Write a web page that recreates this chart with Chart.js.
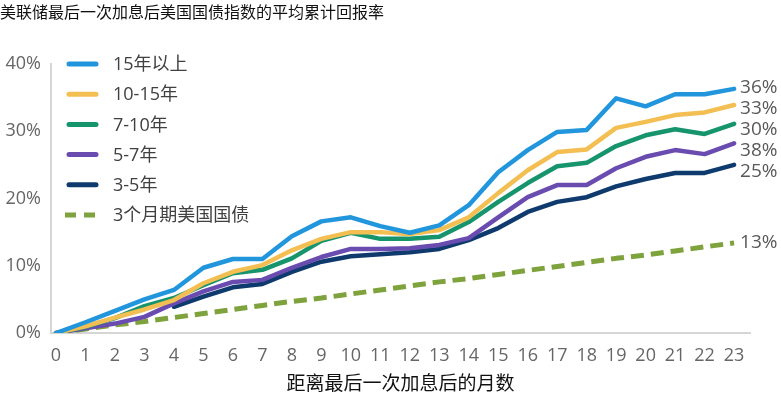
<!DOCTYPE html>
<html>
<head>
<meta charset="utf-8">
<script src="https://cdn.jsdelivr.net/npm/chart.js@4/dist/chart.umd.min.js"></script>
<style>
  html, body { margin: 0; padding: 0; background: #fff; }
  #wrap { width: 781px; height: 394px; position: relative; }
</style>
</head>
<body>
<div id="wrap"><canvas id="c" width="781" height="394"></canvas></div>
<script>
const chartTitle = '美联储最后一次加息后美国国债指数的平均累计回报率';
const xTitle = '距离最后一次加息后的月数';
const months = [0,1,2,3,4,5,6,7,8,9,10,11,12,13,14,15,16,17,18,19,20,21,22,23];
const yTicks = [0,10,20,30,40];

const seriesNames = ['15年以上','10-15年','7-10年','5-7年','3-5年','3个月期美国国债'];
const s15plus = [0,1.6,3.3,5.0,6.4,9.7,11.0,11.0,14.4,16.6,17.2,15.9,14.9,16.0,19.0,23.9,27.2,29.9,30.2,34.9,33.7,35.5,35.5,36.3];
const s10to15 = [0,1.0,2.3,3.5,4.9,7.4,9.1,10.1,12.3,14.0,15.0,15.0,14.7,15.3,17.2,20.8,24.2,26.9,27.3,30.5,31.4,32.4,32.8,33.9];
const s7to10  = [0,0.9,2.2,4.0,5.2,7.1,8.9,9.4,11.1,13.7,14.9,14.0,14.0,14.3,16.5,19.5,22.3,24.8,25.3,27.8,29.4,30.3,29.6,31.1];
const s5to7   = [0,0.7,1.4,2.4,4.4,6.2,7.6,7.9,9.7,11.3,12.5,12.5,12.6,13.1,14.1,17.2,20.2,22.0,22.0,24.5,26.2,27.2,26.6,28.2];
const s3to5   = [null,null,null,null,3.9,5.4,6.8,7.3,9.1,10.6,11.4,11.7,12.0,12.5,13.8,15.6,18.0,19.5,20.2,21.8,22.9,23.8,23.8,25.0];
const sBill3m = [0,0.6,1.2,1.7,2.3,2.9,3.5,4.1,4.7,5.2,5.8,6.4,7.0,7.6,8.1,8.7,9.3,9.9,10.5,11.1,11.6,12.2,12.8,13.4];
const endLabels = ['36%','33%','30%','38%','25%','13%'];

const colors = ['#2196DD','#F3BE52','#16946C','#6A4BAF','#0F3A6E','#7EA23C'];
const allSeries = [s15plus, s10to15, s7to10, s5to7, s3to5, sBill3m];

const NUM_FONT = "'Open Sans','Noto Sans CJK SC',sans-serif";
const CJK_FONT = "'Noto Sans CJK SC','Open Sans',sans-serif";

const datasets = allSeries.map((arr, k) => ({
  label: seriesNames[k],
  data: months.map((m, i) => ({x: m, y: arr[i]})),
  borderColor: colors[k],
  backgroundColor: colors[k],
  borderWidth: k === 5 ? 5 : 4.5,
  borderDash: k === 5 ? [13, 7] : [],
  borderCapStyle: k === 5 ? 'butt' : 'round',
  borderJoinStyle: 'round',
  pointRadius: 0,
  pointHoverRadius: 0,
  tension: 0,
  spanGaps: false,
  fill: false
}));

const legendPlugin = {
  id: 'customLegend',
  afterDraw(chart) {
    const ctx = chart.ctx;
    ctx.save();
    const x0 = 67, x1 = 98, tx = 113, y0 = 64, step = 30.2;
    chart.data.datasets.forEach((ds, k) => {
      const y = y0 + k * step;
      ctx.beginPath();
      ctx.strokeStyle = ds.borderColor;
      ctx.lineWidth = 5;
      ctx.lineCap = k === 5 ? 'butt' : 'round';
      ctx.setLineDash(k === 5 ? [11, 8] : []);
      ctx.moveTo(x0 + (k === 5 ? -2 : 2), y);
      ctx.lineTo(x1 - (k === 5 ? -2 : 2), y);
      ctx.stroke();
      ctx.setLineDash([]);
      ctx.fillStyle = '#404040';
      ctx.font = "18px " + NUM_FONT;
      ctx.textAlign = 'left';
      ctx.textBaseline = 'middle';
      ctx.fillText(ds.label, tx, y + 1);
    });
    ctx.restore();
  }
};

const endLabelPlugin = {
  id: 'endLabels',
  afterDraw(chart) {
    const ctx = chart.ctx;
    ctx.save();
    ctx.font = "19px " + NUM_FONT;
    ctx.fillStyle = '#595959';
    ctx.textAlign = 'left';
    ctx.textBaseline = 'middle';
    const pts = [];
    chart.data.datasets.forEach((ds, k) => {
      const meta = chart.getDatasetMeta(k);
      const last = meta.data[meta.data.length - 1];
      pts.push({k, x: last.x, y: last.y});
    });
    // stack the five solid series labels with min spacing
    const group = pts.slice(0, 5).sort((a, b) => a.y - b.y);
    const orig = group.map(p => p.y);
    const ys = orig.slice();
    for (let i = 1; i < ys.length; i++) ys[i] = Math.max(ys[i], ys[i - 1] + 21);
    const mean = a => a.reduce((s, v) => s + v, 0) / a.length;
    const shift = mean(orig) - mean(ys) + 4;
    group.forEach((p, i) => { p.ly = ys[i] + shift; });
    pts[5].ly = pts[5].y;
    pts.forEach(p => {
      ctx.fillText(endLabels[p.k], p.x + 6, p.ly);
    });
    ctx.restore();
  }
};

new Chart(document.getElementById('c'), {
  type: 'line',
  data: { datasets },
  plugins: [legendPlugin, endLabelPlugin],
  options: {
    responsive: false,
    animation: false,
    devicePixelRatio: 1,
    layout: { padding: { left: 0, right: 31, top: 0, bottom: 0 } },
    plugins: {
      legend: { display: false },
      tooltip: { enabled: false },
      title: {
        display: true,
        text: chartTitle,
        align: 'start',
        color: '#111',
        font: { family: CJK_FONT, size: 16, weight: 'normal' },
        padding: { top: 2.4, bottom: 42.4 }
      }
    },
    scales: {
      x: {
        type: 'linear',
        min: -0.17,
        max: 23.54,
        afterBuildTicks(scale) { scale.ticks = months.map(v => ({ value: v })); },
        afterFit(scale) { scale.height = 61; },
        grid: { display: true, drawOnChartArea: false, drawTicks: false },
        border: { display: true, color: '#D6D6D6', width: 2 },
        ticks: {
          autoSkip: false,
          maxRotation: 0,
          padding: 12,
          color: '#666',
          font: { family: NUM_FONT, size: 18 },
          callback: v => String(v)
        },
        title: {
          display: true,
          text: xTitle,
          color: '#111',
          font: { family: CJK_FONT, size: 19, weight: 'normal' },
          padding: { top: 6, bottom: 0 }
        }
      },
      y: {
        min: 0,
        max: 40,
        afterBuildTicks(scale) { scale.ticks = yTicks.map(v => ({ value: v })); },
        afterFit(scale) { scale.width = 51; },
        grid: { display: true, drawOnChartArea: false, drawTicks: false },
        border: { display: true, color: '#D6D6D6', width: 2 },
        ticks: {
          padding: 10,
          color: '#666',
          font: { family: NUM_FONT, size: 18 },
          callback: v => v + '%'
        }
      }
    }
  }
});
</script>
</body>
</html>
